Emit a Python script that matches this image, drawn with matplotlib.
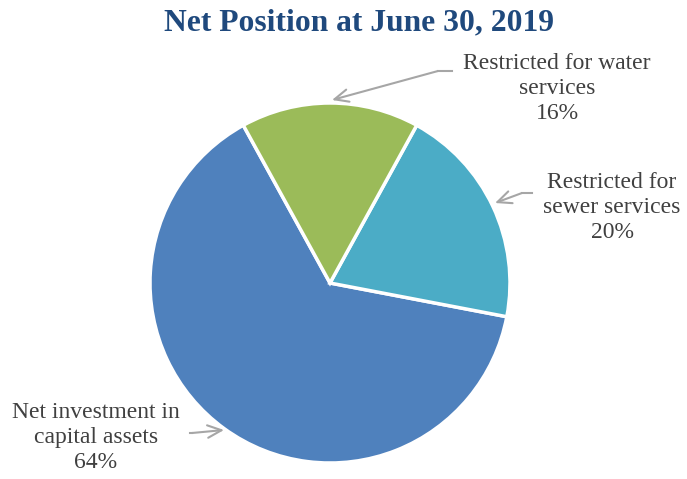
import matplotlib.pyplot as plt

# net position shares, in drawing order
categories = ["Net investment in\ncapital assets", "Restricted for\nsewer services", "Restricted for water\nservices"]
shares = [64, 20, 16]
colors = ["#4F81BD", "#4BACC6", "#9BBB59"]

plt.rcParams['font.family'] = ['Liberation Serif', 'DejaVu Serif']

fig = plt.figure(figsize=(6.87, 4.79), dpi=100)
ax = fig.add_axes([0, 0, 1, 1])

# pie centred at (330, 196) in pixel-ish units, radius 180
ax.pie(shares, colors=colors, startangle=118.8, counterclock=True,
       center=(330, 196), radius=180,
       wedgeprops=dict(edgecolor='white', linewidth=2.5))
ax.set_xlim(0, 687)
ax.set_ylim(0, 479)
ax.set_aspect('equal')
ax.axis('off')

fig.text(0.522, 0.952, "Net Position at June 30, 2019", ha='center', va='center',
         fontsize=22.7, fontweight='bold', color='#1F497D')

# label text position, elbow start, elbow end, arrow tip
label_pos = [(96, 42), (612, 272), (557, 391)]
elbows = [[(190, 46), (192, 46)], [(532, 286), (522, 286)], [(452, 408), (438, 408)]]
tips = [(224, 49), (495, 276), (332, 379)]

gray = '#A6A6A6'
for name, val, (tx, ty), el, tip in zip(categories, shares, label_pos, elbows, tips):
    ax.text(tx, ty, f"{name}\n{val}%", ha='center', va='center', fontsize=17,
            color='#404040', linespacing=1.25)
    ax.plot([el[0][0], el[1][0]], [el[0][1], el[1][1]], color=gray, lw=1.5)
    ax.annotate('', xy=tip, xytext=el[1],
                arrowprops=dict(arrowstyle='->,head_length=1.0,head_width=0.45',
                                color=gray, lw=1.5, shrinkA=0, shrinkB=0))

fig.savefig('out.png', dpi=100)
